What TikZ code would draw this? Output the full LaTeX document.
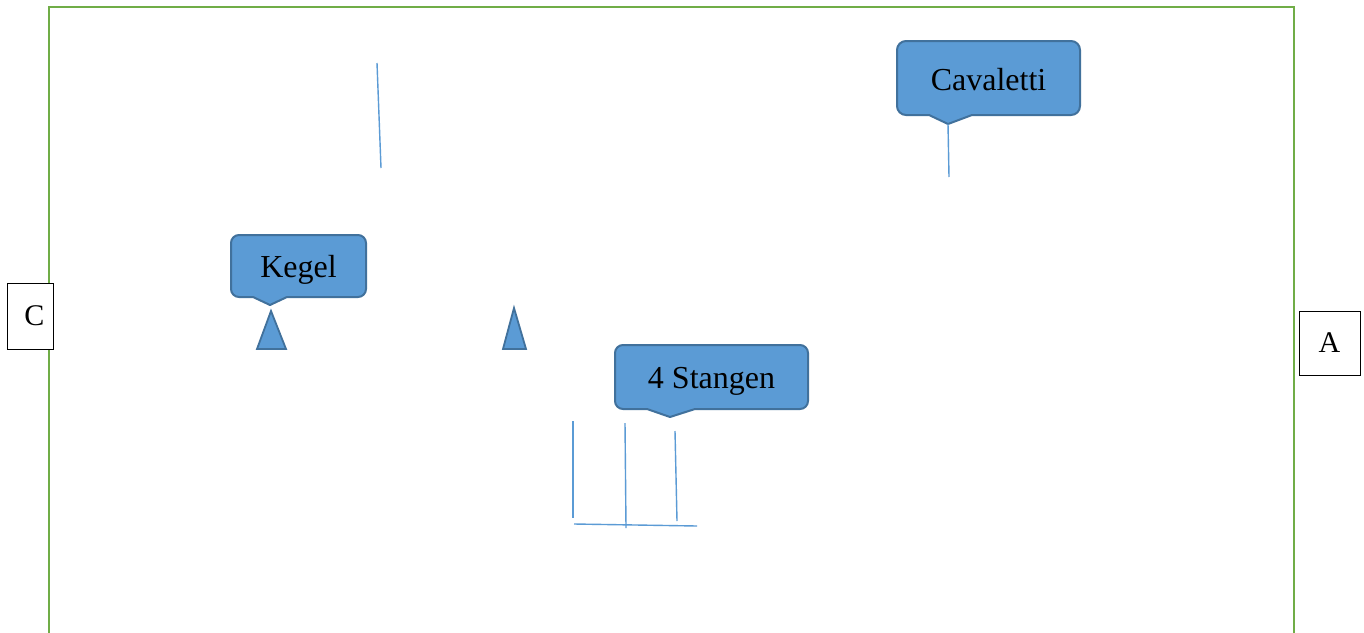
\documentclass[tikz,border=0pt]{standalone}
\usepackage{fontspec}
\setmainfont{Liberation Serif}
\definecolor{fieldgreen}{RGB}{112,173,71}
\definecolor{cfill}{RGB}{91,155,213}
\definecolor{cborder}{RGB}{65,113,156}
\definecolor{pole}{RGB}{91,155,213}
\begin{document}
\begin{tikzpicture}[x=1pt,y=-1pt,
  callbox/.style={fill=cfill,draw=cborder,line width=2pt,line join=round},
  calltext/.style={font=\fontsize{32}{36}\selectfont,text=black,inner sep=0pt},
  letterbox/.style={draw=black,fill=white,line width=1pt,font=\fontsize{30}{34}\selectfont,minimum width=46pt,minimum height=66pt,inner sep=0pt},
  polestyle/.style={draw=pole,line width=1.4pt},
  cone/.style={fill=cfill,draw=cborder,line width=1.8pt,line join=miter}]
\clip (0,0) rectangle (1364,632);
\fill[white] (0,0) rectangle (1364,632);
% field border
\draw[fieldgreen,line width=2.8pt] (49,660) -- (49,7) -- (1294,7) -- (1294,660);
% letter boxes
\node[letterbox] (C) at (30,316) {\hspace{9pt}C};
\node[letterbox,minimum width=61pt,minimum height=64pt] (A) at (1329.5,343) {A};
% callouts
\draw[callbox] (239,235) -- (358,235) to[out=0,in=90] (366,243) -- (366,289) to[out=-90,in=0] (358,297)
  -- (287,297) -- (270,305) -- (253,297) -- (239,297) to[out=180,in=-90] (231,289) -- (231,243) to[out=90,in=180] cycle;
\node[calltext] (kegel) at (298.5,270) {Kegel};
\draw[callbox] (623,345) -- (800,345) to[out=0,in=90] (808,353) -- (808,401) to[out=-90,in=0] (800,409)
  -- (695,409) -- (670,417) -- (647,409) -- (623,409) to[out=180,in=-90] (615,401) -- (615,353) to[out=90,in=180] cycle;
\node[calltext] (stangen) at (711.5,381) {4 Stangen};
\draw[callbox] (906,41) -- (1071,41) to[out=0,in=90] (1080,50) -- (1080,106) to[out=-90,in=0] (1071,115)
  -- (972,115) -- (948,124) -- (929,115) -- (906,115) to[out=180,in=-90] (897,106) -- (897,50) to[out=90,in=180] cycle;
\node[calltext] (cav) at (988.5,80) {Cavaletti};
% cones
\coordinate (k1) at (271,311);
\coordinate (k2) at (514,308);
\draw[cone] (k1) -- (286,349) -- (257,349) -- cycle;
\draw[cone] (k2) -- (526,349) -- (503,349) -- cycle;
% poles
\coordinate (cavtip) at (948,124);
\coordinate (cavend) at (949,177);
\draw[polestyle] (cavtip) -- (cavend);
\coordinate (p1a) at (377,63); \coordinate (p1b) at (381,168);
\draw[polestyle] (p1a) -- (p1b);
\coordinate (s1a) at (573,421); \coordinate (s1b) at (573,518);
\coordinate (s2a) at (625,423); \coordinate (s2b) at (626,528);
\coordinate (s3a) at (675,431); \coordinate (s3b) at (677,521);
\coordinate (s4a) at (574,524); \coordinate (s4b) at (697,526);
\draw[polestyle] (s1a) -- (s1b);
\draw[polestyle] (s2a) -- (s2b);
\draw[polestyle] (s3a) -- (s3b);
\draw[polestyle] (s4a) -- (s4b);
\end{tikzpicture}
\end{document}
